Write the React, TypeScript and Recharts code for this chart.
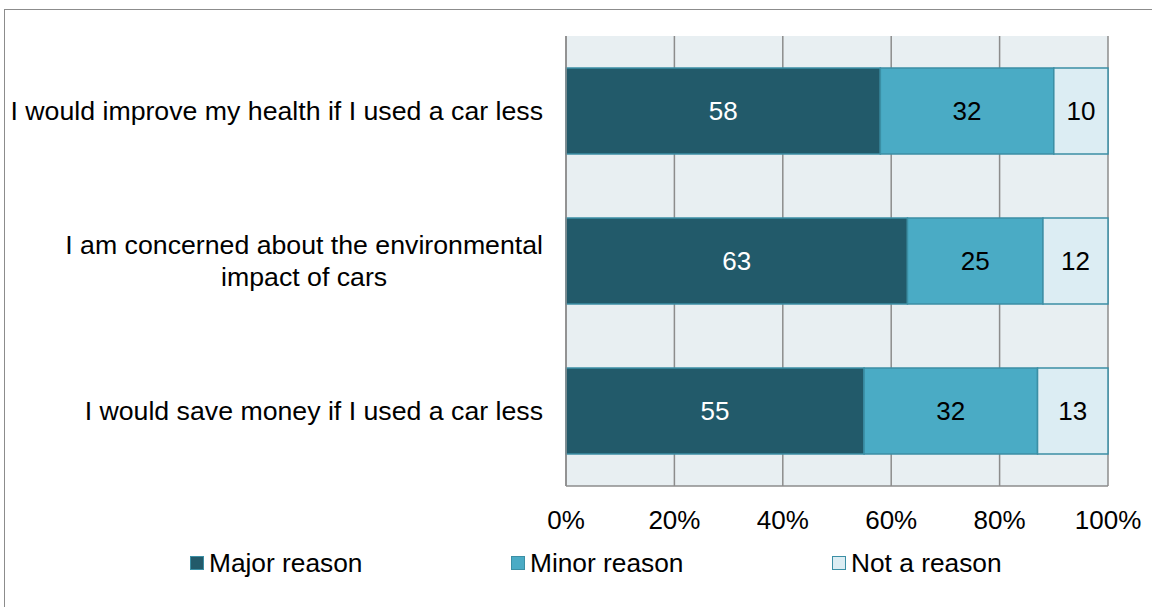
import { BarChart, Bar, XAxis, YAxis, CartesianGrid, Legend, LabelList } from "recharts";

const categories: string[][] = [
  ["I would improve my health if I used a car less"],
  ["I am concerned about the environmental", "impact of cars"],
  ["I would save money if I used a car less"],
];
const majorReason = [58, 63, 55];
const minorReason = [32, 25, 32];
const notAReason = [10, 12, 13];
const xTicks = [0, 20, 40, 60, 80, 100];

const SERIES = [
  { key: "major", name: "Major reason", color: "#225a6a", label: "#ffffff" },
  { key: "minor", name: "Minor reason", color: "#4aabc5", label: "#000000" },
  { key: "not", name: "Not a reason", color: "#dcedf3", label: "#000000" },
];

const FONT = "Arial, 'Liberation Sans', sans-serif";
const FS = 26;
const CAT_FS = 26.7;

const data = categories.map((lines, i) => ({
  label: lines.join("\n"),
  major: majorReason[i],
  minor: minorReason[i],
  not: notAReason[i],
}));

let ctx: CanvasRenderingContext2D | null = null;
function textWidth(s: string) {
  if (!ctx) ctx = document.createElement("canvas").getContext("2d");
  if (!ctx) return s.length * CAT_FS * 0.5;
  ctx.font = `${CAT_FS}px ${FONT}`;
  return ctx.measureText(s).width;
}

function CategoryTick(props: any) {
  const { x, y, payload } = props;
  const lines: string[] = String(payload.value).split("\n");
  const maxW = Math.max(...lines.map(textWidth));
  const center = x - maxW / 2;
  const lh = 32;
  const startY = y - ((lines.length - 1) * lh) / 2;
  return (
    <g>
      {lines.map((ln, i) => (
        <text
          key={i}
          x={lines.length > 1 ? center : x}
          y={startY + i * lh}
          dy="0.35em"
          textAnchor={lines.length > 1 ? "middle" : "end"}
          fontSize={CAT_FS}
          fontFamily={FONT}
          fill="#000"
        >
          {ln}
        </text>
      ))}
    </g>
  );
}

function LegendContent() {
  return (
    <div style={{ height: 61, display: "flex", alignItems: "flex-start", paddingLeft: 190, paddingTop: 12, boxSizing: "border-box", fontFamily: FONT, fontSize: 26.3, whiteSpace: "nowrap" }}>
      {SERIES.map((s) => (
        <div key={s.key} style={{ width: 321, flexShrink: 0, display: "flex", alignItems: "center", lineHeight: "30px", height: 30 }}>
          <span style={{ display: "inline-block", width: 12, height: 12, background: s.color, border: "1.5px solid #3b8fa5", marginRight: 5 }} />
          <span>{s.name}</span>
        </div>
      ))}
    </div>
  );
}

export default function App() {
  return (
    <div style={{ position: "absolute", left: 0, top: 0, width: 1152, height: 607, overflow: "hidden", background: "#fff" }}>
      <div style={{ position: "absolute", left: 4, top: 9, width: 1200, height: 700, border: "1.5px solid #8c8c8c" }} />
      <div style={{ position: "absolute", left: 0, top: 0 }}>
        <BarChart
          width={1152}
          height={607}
          data={data}
          layout="vertical"
          margin={{ top: 36, right: 44, bottom: 10, left: 0 }}
          barCategoryGap={32}
        >
          <CartesianGrid horizontal={false} stroke="#8c8c8c" strokeWidth={1.5} fill="#e8eff2" verticalValues={xTicks} />
          <XAxis
            type="number"
            domain={[0, 100]}
            ticks={xTicks}
            tickFormatter={(v) => `${v}%`}
            height={50}
            tickLine={false}
            tickMargin={19}
            axisLine={{ stroke: "#8c8c8c", strokeWidth: 1.5 }}
            tick={{ fontSize: FS, fontFamily: FONT, fill: "#000" }}
            interval={0}
          />
          <YAxis
            type="category"
            dataKey="label"
            width={566}
            tickLine={false}
            tickMargin={17}
            axisLine={{ stroke: "#8c8c8c", strokeWidth: 1.5 }}
            tick={<CategoryTick />}
            interval={0}
          />
          <Legend verticalAlign="bottom" content={<LegendContent />} />
          {SERIES.map((s) => (
            <Bar key={s.key} dataKey={s.key} name={s.name} stackId="a" fill={s.color} stroke="#3b8fa5" strokeWidth={1.5} isAnimationActive={false}>
              <LabelList dataKey={s.key} position="center" fill={s.label} fontSize={FS} fontFamily={FONT} />
            </Bar>
          ))}
        </BarChart>
      </div>
    </div>
  );
}
